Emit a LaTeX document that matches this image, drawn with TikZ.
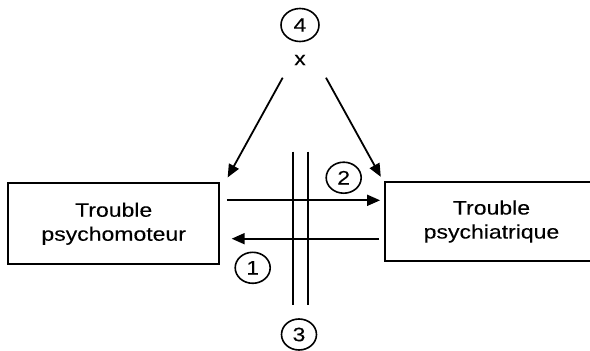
\documentclass[tikz,border=0pt]{standalone}
\usepackage{fontspec}
\setmainfont{Liberation Sans}[FakeStretch=1.18,FakeBold=0.12]
\usetikzlibrary{arrows.meta,shapes.geometric}
\begin{document}
\begin{tikzpicture}[x=1pt,y=-1pt,
  lbl/.style={font=\fontsize{19.5}{24}\selectfont, inner sep=0pt},
  boxnode/.style={draw, line width=1.8pt, inner sep=0pt, align=center, font=\fontsize{19.5}{24}\selectfont},
  num/.style={draw, ellipse, line width=1.6pt, minimum width=35pt, minimum height=31pt, inner sep=0pt, font=\fontsize{19.5}{24}\selectfont},
  arr/.style={line width=1.8pt, -{Triangle[length=13pt,width=11pt]}},
  bar/.style={line width=1.8pt}]
\useasboundingbox (0,0) rectangle (590,351);
% boxes
\node[boxnode, minimum width=210.7pt, minimum height=80.7pt] (lb) at (113.7,223.7) {Trouble\\psychomoteur};
\node[boxnode, minimum width=213pt, minimum height=79pt] (rb) at (491.5,221.5) {Trouble\\psychiatrique};
% labels
\node[num, minimum width=38pt, minimum height=33pt] (n4) at (300,25) {4};
\node[lbl] (xx) at (300,60) {x};
\node[num] (n2) at (343.7,177.7) {2};
\node[num] (n1) at (252.7,267.8) {1};
\node[num] (n3) at (299,334.5) {3};
% horizontal arrows
\draw[arr, shorten <=7pt, shorten >=4pt] ([yshift=23.4pt]lb.east) -- ([yshift=21.2pt]rb.west);
\draw[arr, shorten <=5pt, shorten >=11.7pt] ([yshift=-17.2pt]rb.west) -- ([yshift=-15pt]lb.east);
% diagonal arrows
\coordinate (d1) at (282.7,77.7);
\coordinate (d2) at (326,77.7);
\draw[arr] (d1) -- ([xshift=7.7pt,yshift=5pt]lb.north east);
\draw[arr] (d2) -- ([xshift=-3.3pt,yshift=4.3pt]rb.north west);
% vertical barrier
\coordinate (v1t) at (292.7,151.7);
\coordinate (v1b) at (292.7,305);
\coordinate (v2t) at (308.3,151.7);
\coordinate (v2b) at (308.3,305);
\draw[bar] (v1t) -- (v1b);
\draw[bar] (v2t) -- (v2b);
\end{tikzpicture}
\end{document}
